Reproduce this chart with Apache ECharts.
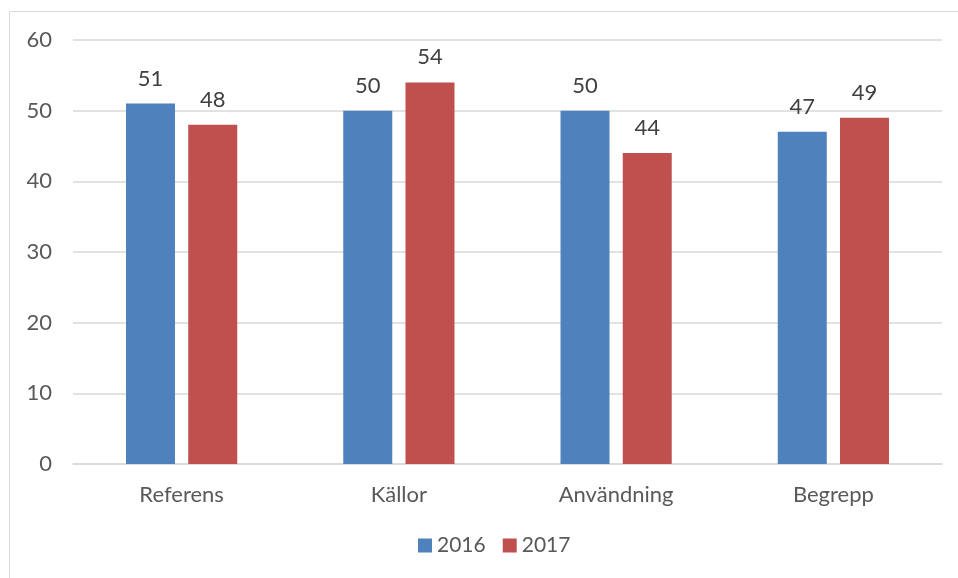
<!DOCTYPE html>
<html><head><meta charset="utf-8">
<script src="https://cdn.jsdelivr.net/npm/echarts@6/dist/echarts.min.js"></script>
<style>html,body{margin:0;padding:0;background:#fff}#c{width:958px;height:578px}</style>
</head><body><div id="c"></div>
<script>
const categories = ['Referens', 'Källor', 'Användning', 'Begrepp'];
const series2016 = [51, 50, 50, 47];
const series2017 = [48, 54, 44, 49];
const seriesNames = ['2016', '2017'];
const font = 'Lato, "Open Sans", sans-serif';
const chart = echarts.init(document.getElementById('c'));
chart.setOption({
  animation: false,
  textStyle: { fontFamily: font },
  graphic: [{ type: 'rect', shape: { x: 9.5, y: 11.5, width: 1000, height: 1000 }, style: { fill: 'none', stroke: '#d9d9d9', lineWidth: 1 }, z: -1 }],
  grid: { left: 73, right: 16, top: 40, bottom: 114 },
  legend: {
    bottom: 17, left: 413, itemWidth: 14, itemHeight: 14, itemGap: 17,
    icon: 'rect',
    textStyle: { color: '#595959', fontSize: 21, fontFamily: font }
  },
  xAxis: {
    type: 'category', data: categories,
    axisTick: { show: false },
    axisLine: { lineStyle: { color: '#d9d9d9', width: 1.5 } },
    axisLabel: { color: '#595959', fontSize: 22, margin: 20, fontFamily: font }
  },
  yAxis: {
    type: 'value', min: 0, max: 60, interval: 10,
    axisLine: { show: false }, axisTick: { show: false },
    splitLine: { lineStyle: { color: '#d9d9d9', width: 1.5 } },
    axisLabel: { color: '#595959', fontSize: 22, margin: 21, fontFamily: font }
  },
  series: [
    { name: seriesNames[0], type: 'bar', data: series2016, barWidth: 49, barGap: '27%',
      itemStyle: { color: '#4F81BD' },
      label: { show: true, position: 'top', distance: 14, color: '#404040', fontSize: 22, fontFamily: font } },
    { name: seriesNames[1], type: 'bar', data: series2017, barWidth: 49,
      itemStyle: { color: '#C0504D' },
      label: { show: true, position: 'top', distance: 14, color: '#404040', fontSize: 22, fontFamily: font } }
  ]
});
</script></body></html>
